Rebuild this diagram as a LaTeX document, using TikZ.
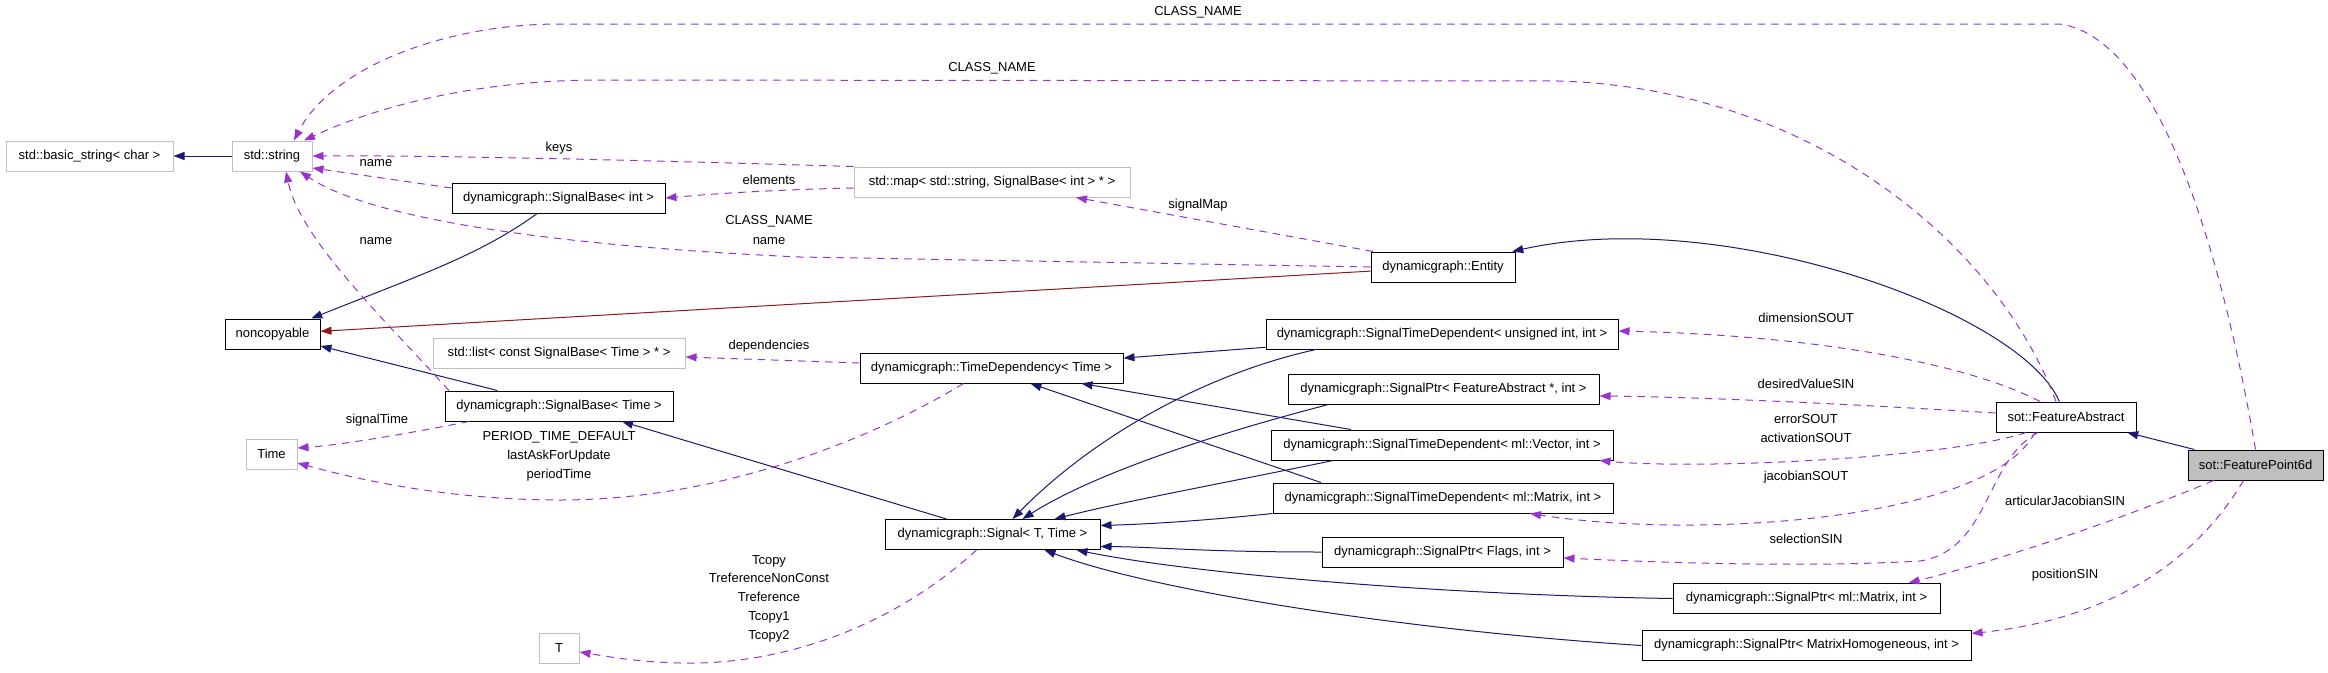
\documentclass[tikz,border=0pt]{standalone}
\usepackage{fontspec}
\setmainfont{Liberation Sans}
\usetikzlibrary{arrows.meta}
\definecolor{inhblue}{RGB}{25,25,112}
\definecolor{usepurple}{RGB}{154,50,205}
\definecolor{privred}{RGB}{139,26,26}
\definecolor{extgray}{RGB}{191,191,191}

\begin{document}
\begin{tikzpicture}[x=1pt, y=-1pt, line width=1pt,
    font=\fontsize{13}{15}\selectfont,
    box/.style={draw, rectangle, minimum height=30pt, inner sep=0pt},
    ext/.style={box, draw=extgray},
    cur/.style={box, fill=extgray},
    inh/.style={draw=inhblue, -{Triangle[length=11pt,width=8pt]}},
    priv/.style={draw=privred, -{Triangle[length=11pt,width=8pt]}},
    usage/.style={draw=usepurple, dash pattern=on 7.5pt off 6pt, -{Triangle[length=11pt,width=8pt]}},
    lbl/.style={inner sep=0pt, align=center}]
    \useasboundingbox (0,0) rectangle (2328,672);
    % classes
    \node[ext, minimum width=167] (bstr) at (89.5,156) {std::basic\_string< char >};
    \node[ext, minimum width=80] (str) at (272,156) {std::string};
    \node[box, minimum width=213] (sbint) at (558.5,198) {dynamicgraph::SignalBase< int >};
    \node[box, minimum width=95] (noncp) at (272.5,334) {noncopyable};
    \node[ext, minimum width=252] (list) at (559,353) {std::list< const SignalBase< Time > * >};
    \node[box, minimum width=228] (sbtime) at (559,406) {dynamicgraph::SignalBase< Time >};
    \node[ext, minimum width=51] (time) at (271.5,454) {Time};
    \node[ext, minimum width=40] (tT) at (559,648) {T};
    \node[ext, minimum width=276] (map) at (992,182) {std::map< std::string, SignalBase< int > * >};
    \node[box, minimum width=263] (tdep) at (991.5,368) {dynamicgraph::TimeDependency< Time >};
    \node[box, minimum width=215] (signal) at (992.5,534.5) {dynamicgraph::Signal< T, Time >};
    \node[box, minimum width=144] (entity) at (1443,267) {dynamicgraph::Entity};
    \node[box, minimum width=352] (stdu) at (1442,334) {dynamicgraph::SignalTimeDependent< unsigned int, int >};
    \node[box, minimum width=311] (sptrfa) at (1443.5,389) {dynamicgraph::SignalPtr< FeatureAbstract *, int >};
    \node[box, minimum width=342] (stdvec) at (1442,445) {dynamicgraph::SignalTimeDependent< ml::Vector, int >};
    \node[box, minimum width=340] (stdmat) at (1443,498) {dynamicgraph::SignalTimeDependent< ml::Matrix, int >};
    \node[box, minimum width=241] (sptrflags) at (1442.5,552) {dynamicgraph::SignalPtr< Flags, int >};
    \node[box, minimum width=267] (sptrmat) at (1806.5,598.5) {dynamicgraph::SignalPtr< ml::Matrix, int >};
    \node[box, minimum width=329] (sptrmh) at (1806.5,645.5) {dynamicgraph::SignalPtr< MatrixHomogeneous, int >};
    \node[box, minimum width=140] (featabs) at (2066,417) {sot::FeatureAbstract};
    \node[cur, minimum width=135] (fp6d) at (2255.5,465) {sot::FeaturePoint6d};
    % inheritance
    \draw[inh] (str) -- (bstr);
    \draw[inh] (sbint) .. controls (480,255) and (420,275) .. (noncp);
    \draw[priv] (entity) -- (noncp);
    \draw[inh] (sbtime) -- (noncp);
    \draw[inh] (featabs) .. controls (2020,310) and (1720,205) .. (entity);
    \draw[inh] (fp6d) -- (featabs);
    \draw[inh] (stdu) -- (tdep);
    \draw[inh] ([xshift=-126]stdu.south) .. controls (1200,375) and (1090,440) .. ([xshift=20]signal.north);
    \draw[inh] ([xshift=-115]sptrfa.south) .. controls (1230,430) and (1100,470) .. ([xshift=30]signal.north);
    \draw[inh] ([xshift=-91]stdvec.north) -- ([xshift=90]tdep.south);
    \draw[inh] ([xshift=-109]stdvec.south) .. controls (1240,480) and (1130,500) .. ([xshift=62]signal.north);
    \draw[inh] ([xshift=-122]stdmat.north) -- ([xshift=39]tdep.south);
    \draw[inh] (stdmat.south west) .. controls (1200,521) and (1150,524) .. ([yshift=9]signal.east);
    \draw[inh] (sptrflags.west) .. controls (1200,552) and (1160,547) .. ([yshift=-12]signal.east);
    \draw[inh] (sptrmat.west) .. controls (1450,595) and (1200,575) .. ([xshift=84]signal.south);
    \draw[inh] (sptrmh.west) .. controls (1400,630) and (1150,590) .. ([xshift=52]signal.south);
    \draw[inh] ([xshift=-46]signal.north) -- ([xshift=63]sbtime.south);
    % members
    \draw[usage] (fp6d.north) .. controls (2230,300) and (2170,40) .. (2060,24) -- (560,24)
        .. controls (440,24) and (330,70) .. ([xshift=22]str.north);
    \draw[usage] ([xshift=-10]featabs.north) .. controls (2000,250) and (1820,90) .. (1560,81) -- (600,80)
        .. controls (480,80) and (380,105) .. ([xshift=32]str.north);
    \draw[usage] (map.north west) .. controls (700,162) and (450,155) .. (str.east);
    \draw[usage] ([yshift=-6]map.west) .. controls (760,190) and (700,195) .. (sbint.east);
    \draw[usage] ([yshift=10]sbint.west) -- ([yshift=-12]str.east);
    \draw[usage] (entity.west) -- (800,257) .. controls (600,248) and (380,225) .. ([xshift=28]str.south);
    \draw[usage] ([xshift=-70]entity.north) -- ([xshift=84]map.south);
    \draw[usage] ([xshift=-110]sbtime.north) .. controls (390,325) and (300,240) .. ([xshift=14]str.south);
    \draw[usage] ([xshift=-90]sbtime.south) .. controls (400,435) and (340,445) .. ([yshift=6]time.east);
    \draw[usage] ([xshift=-28]tdep.south) .. controls (870,440) and (720,500) .. (560,500)
        .. controls (450,500) and (360,480) .. ([yshift=-9]time.east);
    \draw[usage] ([yshift=5]tdep.west) -- ([yshift=-4]list.east);
    \draw[usage] ([xshift=-16]signal.south) .. controls (900,620) and (800,660) .. (700,663)
        .. controls (650,664) and (610,657) .. ([yshift=-4]tT.east);
    \draw[usage] ([xshift=-26]featabs.north) .. controls (1960,360) and (1800,335) .. ([yshift=3]stdu.east);
    \draw[usage] ([yshift=4]featabs.west) .. controls (1850,404) and (1700,397) .. ([yshift=-7]sptrfa.east);
    \draw[usage] ([xshift=-40]featabs.south) .. controls (1950,458) and (1700,470) .. ([xshift=-14]stdvec.south east);
    \draw[usage] ([xshift=-31]featabs.south) .. controls (1990,520) and (1700,540) .. ([xshift=87]stdmat.south);
    \draw[usage] ([xshift=-28]featabs.south) .. controls (1985,460) and (1990,550) .. (1920,561)
        .. controls (1800,568) and (1650,562) .. ([yshift=-6]sptrflags.east);
    \draw[usage] ([xshift=-42]fp6d.south) .. controls (2120,520) and (2000,560) .. ([xshift=102]sptrmat.north);
    \draw[usage] ([xshift=-12]fp6d.south) .. controls (2190,570) and (2100,620) .. ([yshift=12]sptrmh.east);
    % edge labels
    \node[lbl] (cn1) at (1198,12) {CLASS\_NAME};
    \node[lbl] (cn2) at (992,68) {CLASS\_NAME};
    \node[lbl] (keys) at (559,148) {keys};
    \node[lbl] (nm1) at (376,163) {name};
    \node[lbl] (elems) at (769,180) {elements};
    \node[lbl] (smap) at (1198,205) {signalMap};
    \node[lbl, font=\fontsize{13}{20}\selectfont] (cn3) at (769,230) {CLASS\_NAME\\name};
    \node[lbl] (nm2) at (376,241) {name};
    \node[lbl] (deps) at (769,346) {dependencies};
    \node[lbl] (stime) at (377,420) {signalTime};
    \node[lbl, font=\fontsize{13}{19}\selectfont] (ptime) at (559,456) {PERIOD\_TIME\_DEFAULT\\lastAskForUpdate\\periodTime};
    \node[lbl, font=\fontsize{13}{18.75}\selectfont] (tcp) at (769,598.5) {Tcopy\\TreferenceNonConst\\Treference\\Tcopy1\\Tcopy2};
    \node[lbl] (dims) at (1806,318) {dimensionSOUT};
    \node[lbl] (desv) at (1806,384) {desiredValueSIN};
    \node[lbl, font=\fontsize{13}{19}\selectfont] (errs) at (1806,428.5) {errorSOUT\\activationSOUT};
    \node[lbl] (jacs) at (1806,477) {jacobianSOUT};
    \node[lbl] (sels) at (1806,539) {selectionSIN};
    \node[lbl] (ajac) at (2065,501) {articularJacobianSIN};
    \node[lbl] (poss) at (2065,575) {positionSIN};
\end{tikzpicture}
\end{document}
